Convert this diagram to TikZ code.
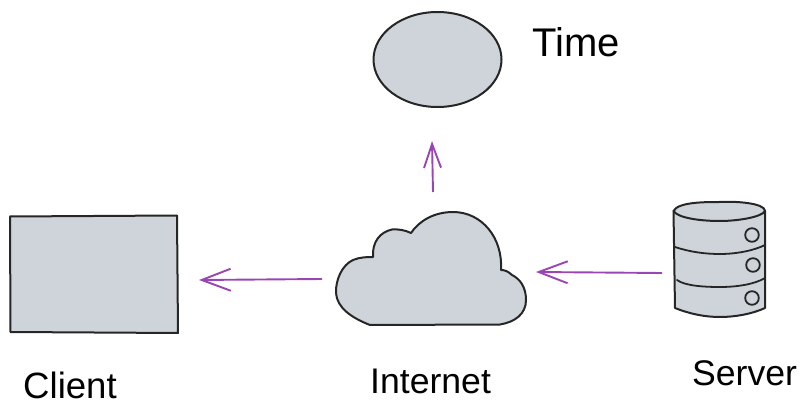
\documentclass[tikz,border=0pt]{standalone}
\usepackage{fontspec}
\setmainfont{Liberation Sans}
\usetikzlibrary{arrows.meta}
\definecolor{shapefill}{HTML}{CED4DA}
\definecolor{inkline}{HTML}{262626}
\definecolor{arrowpurple}{HTML}{9A45B4}
\tikzset{
  sketch/.style={draw=inkline,fill=shapefill,line width=2pt,line join=round},
  sketchline/.style={draw=inkline,line width=1.8pt,line cap=round},
  link/.style={draw=arrowpurple,line width=1.9pt,-{Straight Barb[length=29pt,width=22pt,line width=1.9pt]}},
  linkshort/.style={draw=arrowpurple,line width=1.9pt,-{Straight Barb[length=24pt,width=17pt,line width=1.9pt]}},
  lbl/.style={inner sep=0pt,text=black,font=\fontsize{35.6}{40}\selectfont,anchor=base west}
}
\begin{document}
\begin{tikzpicture}[x=1pt,y=-1pt]
\useasboundingbox (0,0) rectangle (807,417);
% Time
\path[sketch] (437.5,59.5) ellipse [x radius=64,y radius=47.5];
% Client
\path[sketch] (10,216.5) -- (177,215.5) -- (178,333) -- (10.5,332) -- cycle;
% Cloud
\path[sketch] (370,325) -- (500,324.5)
  .. controls (515,322) and (526,314) .. (526,300)
  .. controls (526,287) and (520,279) .. (512,275)
  .. controls (508,271) and (504,270) .. (501,270)
  .. controls (503,238) and (482,212) .. (453,212)
  .. controls (434,212) and (419,221) .. (411,233)
  .. controls (405,230) and (398,229) .. (392,229.5)
  .. controls (380,232) and (372,242) .. (373,257)
  .. controls (368,257) and (360,257) .. (353,260)
  .. controls (342,265) and (335.5,280) .. (336,293)
  .. controls (337,308) and (352,318) .. (370,325) -- cycle;
% Server
\path[sketch] (673.5,211) -- (675,308)
  .. controls (690,314) and (705,317) .. (720,317)
  .. controls (735,317) and (752,314) .. (765,308)
  -- (765,211) -- cycle;
\path[sketch] (673.5,211)
  .. controls (678,202) and (705,202) .. (720,202)
  .. controls (735,201) and (765,203) .. (765,211)
  .. controls (762,217) and (738,221) .. (720,221)
  .. controls (700,221) and (678,218) .. (673.5,211) -- cycle;
\draw[sketchline] (675,247) .. controls (690,252) and (705,254) .. (720,254)
  .. controls (738,254) and (755,250) .. (765,245);
\draw[sketchline] (677,280) .. controls (685,286) and (705,287) .. (720,287)
  .. controls (738,287) and (755,284) .. (765,278);
\foreach \nm/\cx/\cy in {a/752/235,b/753/265,c/752/298}
  \draw[sketchline,fill=shapefill] (\cx,\cy) circle (6.8);
% Labels
\node[lbl,font=\fontsize{40}{44}\selectfont] (timelabel) at (532,56.5) {Time};
\node[lbl,font=\fontsize{36.6}{40}\selectfont] (clientlabel) at (23,398) {Client};
\node[lbl] (internetlabel) at (370,393) {Internet};
\node[lbl] (serverlabel) at (692,385) {Server};
% Connectors
\coordinate (cloudleft) at (322,279);
\coordinate (clienttip) at (199,280);
\coordinate (cloudtop) at (433,192);
\coordinate (timetip) at (432,141);
\coordinate (serverleft) at (662,273);
\coordinate (cloudright) at (536,272);
\draw[link] (cloudleft) -- (clienttip);
\draw[linkshort] (cloudtop) -- (timetip);
\draw[link] (serverleft) -- (cloudright);
\end{tikzpicture}
\end{document}
